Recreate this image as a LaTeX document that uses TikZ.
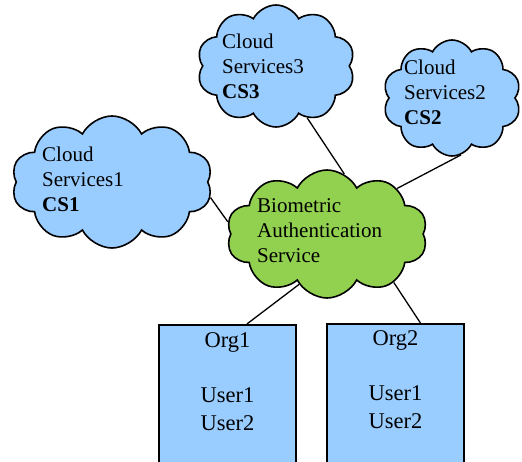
\documentclass[tikz,border=0pt]{standalone}
\usepackage{fontspec}
\setmainfont{Liberation Serif}
\usetikzlibrary{shapes.symbols,calc,backgrounds}
\definecolor{cloudblue}{RGB}{153,204,255}
\definecolor{biogreen}{RGB}{146,208,80}
\tikzset{
  cloudshape/.style={cloud, cloud puffs=10, cloud puff arc=125, cloud ignores aspect,
    draw, line width=1.6pt, inner sep=0pt},
  cloudtext/.style={anchor=base west, align=left, inner sep=0pt,
    font=\fontsize{21}{25}\selectfont},
  orgbox/.style={draw, line width=1.6pt, fill=cloudblue, minimum width=137pt,
    minimum height=170pt, anchor=north},
  orgtext/.style={anchor=base, align=center, inner sep=0pt,
    font=\fontsize{22.5}{27.5}\selectfont},
  link/.style={line width=1.3pt}
}
\begin{document}
\begin{tikzpicture}[x=1pt,y=-1pt]
\useasboundingbox (0,0) rectangle (522,462);

\node[cloudshape, fill=cloudblue, minimum width=201pt, minimum height=132pt] (cs1) at (112,182) {};
\node[cloudshape, fill=cloudblue, minimum width=158pt, minimum height=122pt] (cs3) at (276,66) {};
\node[cloudshape, fill=cloudblue, minimum width=138pt, minimum height=116pt] (cs2) at (452,98) {};
\node[cloudshape, fill=biogreen, minimum width=201pt, minimum height=128pt] (bas) at (327,234) {};

\node[cloudtext] (cs1text) at (42,212) {Cloud\\Services1\\\textbf{CS1}};
\node[cloudtext] (cs3text) at (222,99) {Cloud\\Services3\\\textbf{CS3}};
\node[cloudtext] (cs2text) at (404,125) {Cloud\\Services2\\\textbf{CS2}};
\node[cloudtext] (bastext) at (257,263) {Biometric\\Authentication\\Service};

\node[orgbox] (org1) at (227.5,324) {};
\node[orgbox] (org2) at (395.5,323) {};
\node[orgtext] (org1text) at (227.5,430) {Org1\\[27.5pt]User1\\User2};
\node[orgtext] (org2text) at (395.5,428) {Org2\\[27.5pt]User1\\User2};

\begin{scope}[on background layer]
\draw[link] (cs1.-9) -- (bas.173);
\draw[link] (cs3.-59) -- (bas.74);
\draw[link] (cs2.-81) -- (bas.33);
\draw[link] (bas.-119) -- ($(org1.north west)!0.64!(org1.north east)$);
\draw[link] (bas.-36) -- ($(org2.north west)!0.68!(org2.north east)$);
\end{scope}
\end{tikzpicture}
\end{document}
